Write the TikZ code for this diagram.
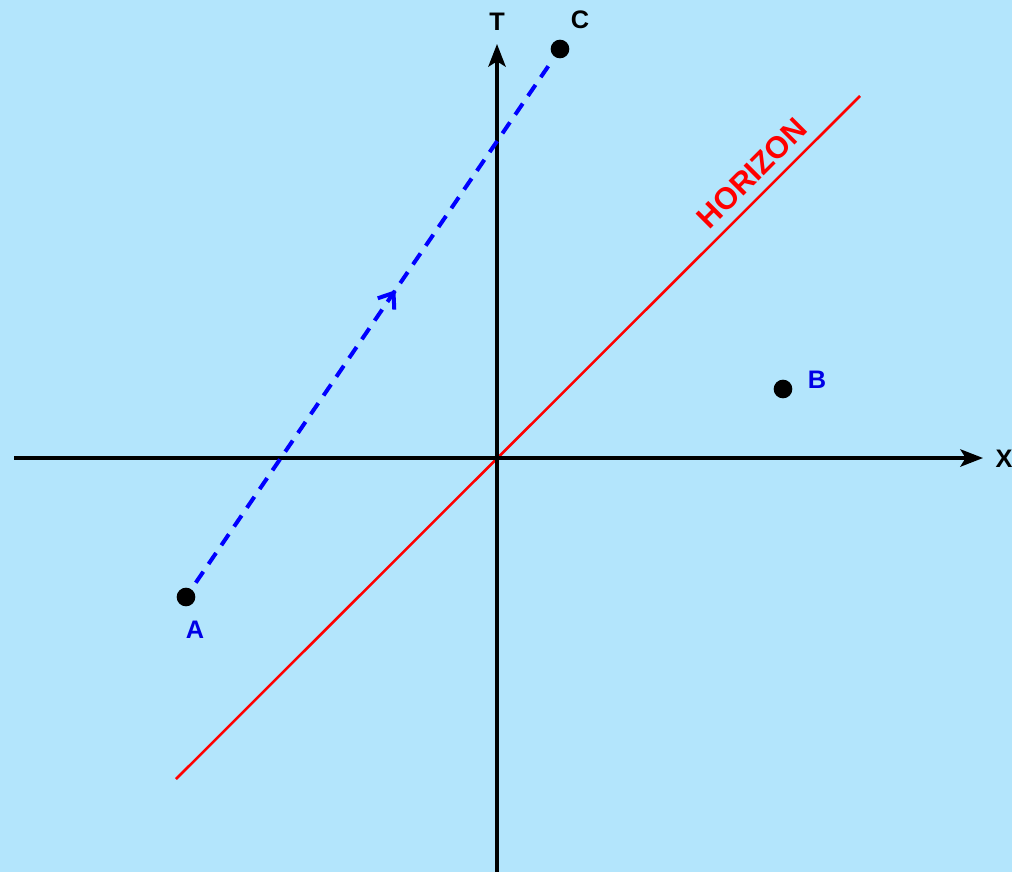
\documentclass[tikz,border=0pt]{standalone}
\usepackage{fontspec}
\setmainfont{Liberation Sans}
\usetikzlibrary{arrows.meta,decorations.markings}
\definecolor{bg}{RGB}{179,229,252}
\definecolor{lblblue}{RGB}{0,0,230}
\tikzset{
  axis/.style={line width=2.6pt,-{Stealth[length=17pt,width=13pt,inset=4pt]}},
  dot/.style={circle,fill=black,inner sep=0pt,minimum size=14pt},
  lbl/.style={font=\fontsize{19}{22}\selectfont\bfseries,inner sep=0pt},
  worldline/.style={blue,line width=3pt,dash pattern=on 10pt off 7pt,shorten <=13pt,shorten >=13pt,
    postaction={decorate},decoration={markings,mark=at position 0.56 with {\arrow[blue,line width=3pt]{Straight Barb[length=10pt,width=15pt]}}}}
}
\begin{document}
\begin{tikzpicture}[x=0.75pt,y=-0.75pt]
\fill[bg] (0,0) rectangle (1012,872);
\useasboundingbox (0,0) rectangle (1012,872);
\coordinate (xl) at (14,458);
\coordinate (xr) at (983,458);
\coordinate (tb) at (497,872);
\coordinate (tt) at (497,44);
\coordinate (h1) at (176,779);
\coordinate (h2) at (860,96);
\draw[red,line width=1.9pt] (h1) -- (h2);
\draw[axis] (xl) -- (xr);
\draw[axis] (tb) -- (tt);
\node[dot] (A) at (186,597) {};
\node[dot] (B) at (783,389) {};
\node[dot] (C) at (560,49) {};
\draw[worldline] (A.center) -- (C.center);
\node[lbl,text=lblblue] (la) at (195,630) {A};
\node[lbl,text=lblblue] (lb) at (817,380) {B};
\node[lbl] (lc) at (580,20) {C};
\node[lbl] (lt) at (497,22) {T};
\node[lbl] (lx) at (1004,459) {X};
\node[lbl,font=\fontsize{23}{26}\selectfont\bfseries,text=red,rotate=45] (lh) at (752,173) {HORIZON};
\end{tikzpicture}
\end{document}
